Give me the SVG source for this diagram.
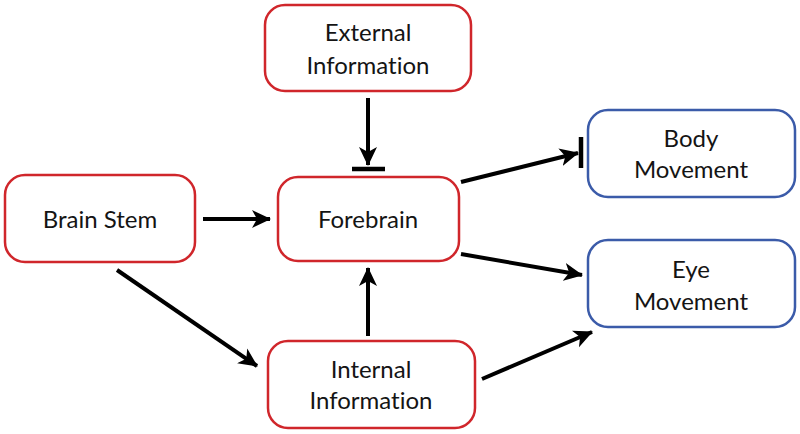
<svg xmlns="http://www.w3.org/2000/svg" width="800" height="434" viewBox="0 0 800 434">
<defs>
<style>
.red{fill:#fff;stroke:#d0262b;stroke-width:2.5}
.blue{fill:#fff;stroke:#3b5ba9;stroke-width:2.5}
text{font-family:"Lato","Open Sans","Liberation Sans",sans-serif;font-size:24px;fill:#141414;text-anchor:middle;font-variant-ligatures:none}
.ln{stroke:#000;stroke-width:4;fill:none}
.bar{stroke:#000;stroke-width:4.5;fill:none}
</style>
<marker id="ah" markerUnits="userSpaceOnUse" markerWidth="20" markerHeight="20" viewBox="0 0 20 20" refX="18" refY="10" orient="auto">
<path d="M0,1 L19,10 L0,19 L5,10 Z" fill="#000"/>
</marker>
</defs>
<g id="external">
<rect class="red" x="265" y="5" width="206" height="86" rx="20"/>
<text x="368" y="41">External</text>
<text x="368" y="74">Information</text>
</g>
<g id="brainstem">
<rect class="red" x="5" y="175" width="190" height="87" rx="20"/>
<text x="100" y="228">Brain Stem</text>
</g>
<g id="forebrain">
<rect class="red" x="278" y="177" width="181" height="84" rx="20"/>
<text x="368" y="228">Forebrain</text>
</g>
<g id="internal">
<rect class="red" x="268" y="341" width="207" height="87" rx="20"/>
<text x="371" y="378">Internal</text>
<text x="371" y="409">Information</text>
</g>
<g id="body">
<rect class="blue" x="588" y="110" width="207" height="87" rx="20"/>
<text x="691" y="147">Body</text>
<text x="691" y="178">Movement</text>
</g>
<g id="eye">
<rect class="blue" x="588" y="240" width="207" height="87" rx="20"/>
<text x="691" y="278">Eye</text>
<text x="691" y="310">Movement</text>
</g>
<g id="connectors">
<line class="ln" x1="368" y1="98" x2="368" y2="165" marker-end="url(#ah)"/>
<line class="bar" x1="352" y1="169" x2="385" y2="169"/>
<line class="ln" x1="203" y1="219" x2="270" y2="219" marker-end="url(#ah)"/>
<line class="ln" x1="461" y1="182" x2="578" y2="153" marker-end="url(#ah)"/>
<line class="bar" x1="581" y1="137" x2="581" y2="168"/>
<line class="ln" x1="461" y1="254" x2="582" y2="275" marker-end="url(#ah)"/>
<line class="ln" x1="482" y1="379" x2="592" y2="332" marker-end="url(#ah)"/>
<line class="ln" x1="117" y1="270" x2="257" y2="366" marker-end="url(#ah)"/>
<line class="ln" x1="368" y1="336" x2="368" y2="268" marker-end="url(#ah)"/>
</g>
</svg>
